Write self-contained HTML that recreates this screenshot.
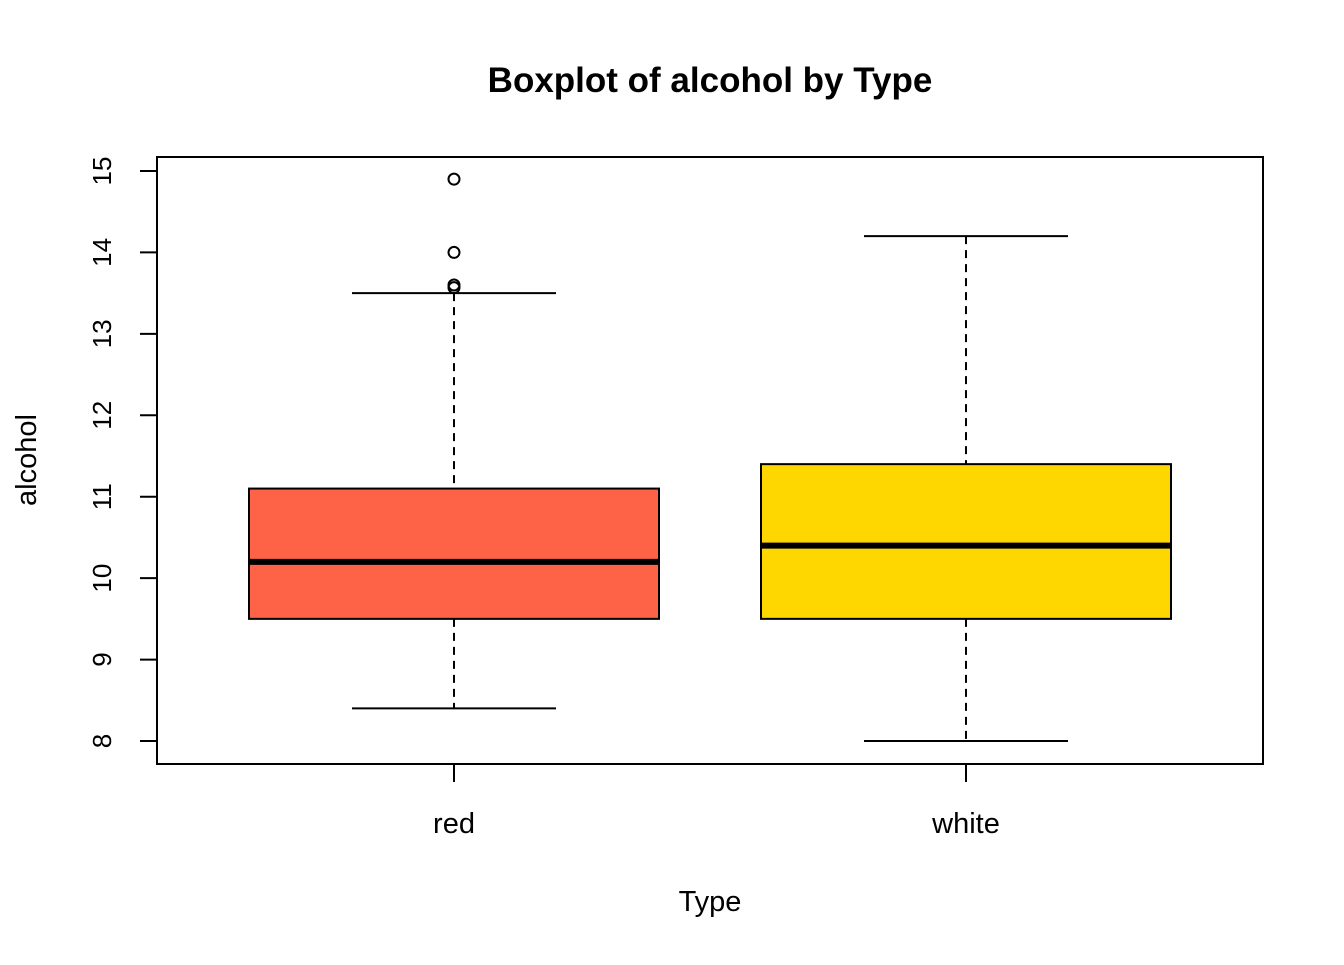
<!DOCTYPE html>
<html><head><meta charset="utf-8"><style>
body{margin:0;background:#fff}
svg text{font-family:"Liberation Sans",Arial,sans-serif;fill:#000}
</style></head><body>
<svg width="1344" height="960" xmlns="http://www.w3.org/2000/svg">
<text x="710" y="92" font-size="35" font-weight="bold" text-anchor="middle">Boxplot of alcohol by Type</text>
<rect x="157" y="157" width="1106" height="607" fill="none" stroke="#000" stroke-width="2"/>
<text x="710" y="911" font-size="29" text-anchor="middle">Type</text>
<text transform="translate(36,460) rotate(-90)" font-size="29" text-anchor="middle">alcohol</text>
<g id="g"></g>
</svg>
<script>
const categories=["red","white"];
const q1=[9.5,9.5];
const medians=[10.2,10.4];
const q3=[11.1,11.4];
const whiskerLow=[8.4,8.0];
const whiskerHigh=[13.5,14.2];
const outliers=[[14.9,14.0,13.6,13.567],[]];
const colors=["#FF6347","#FFD700"];
const yTicks=[8,9,10,11,12,13,14,15];
const NS="http://www.w3.org/2000/svg";
const g=document.getElementById('g');
function y(v){return 741-(v-8)*(741-171)/7;}
function x(i){return 454+i*512;}
function mk(t,a){const e=document.createElementNS(NS,t);for(const k in a)e.setAttribute(k,a[k]);g.appendChild(e);return e;}
mk('line',{x1:157,x2:157,y1:y(8),y2:y(15),stroke:'#000','stroke-width':2});
yTicks.forEach(v=>{
 const l=mk('line',{x1:140,x2:157,y1:y(v),y2:y(v),stroke:'#000','stroke-width':2});
 
 
 const t=mk('text',{transform:`translate(111,${y(v)}) rotate(-90)`,'font-size':26,'text-anchor':'middle'});
 t.textContent=v;
 
 
});
categories.forEach((c,i)=>{
 const cx=x(i);
 mk('line',{x1:cx,x2:cx,y1:764,y2:782,stroke:'#000','stroke-width':2});
 const t=mk('text',{x:cx,y:833,'font-size':29,'text-anchor':'middle'});t.textContent=c;
 
 
 mk('line',{x1:cx,x2:cx,y1:y(whiskerHigh[i]),y2:y(q3[i]),stroke:'#000','stroke-width':2,'stroke-dasharray':'8,6'});
 mk('line',{x1:cx,x2:cx,y1:y(q1[i]),y2:y(whiskerLow[i]),stroke:'#000','stroke-width':2,'stroke-dasharray':'8,6'});
 [whiskerHigh[i],whiskerLow[i]].forEach(w=>{
  const l=mk('line',{x1:cx-102,x2:cx+102,y1:y(w),y2:y(w),stroke:'#000','stroke-width':2});
  
  
 });
 const b=mk('rect',{x:cx-205,width:410,y:y(q3[i]),height:y(q1[i])-y(q3[i]),fill:colors[i],stroke:'#000','stroke-width':2});
 
 
 const m=mk('line',{x1:cx-205,x2:cx+205,y1:y(medians[i]),y2:y(medians[i]),stroke:'#000','stroke-width':6});
 
 
 outliers[i].forEach(o=>{
  const p=mk('circle',{cx:cx,cy:y(o),r:5.5,fill:'none',stroke:'#000','stroke-width':2});
  
  
 });
});
</script>
</body></html>
